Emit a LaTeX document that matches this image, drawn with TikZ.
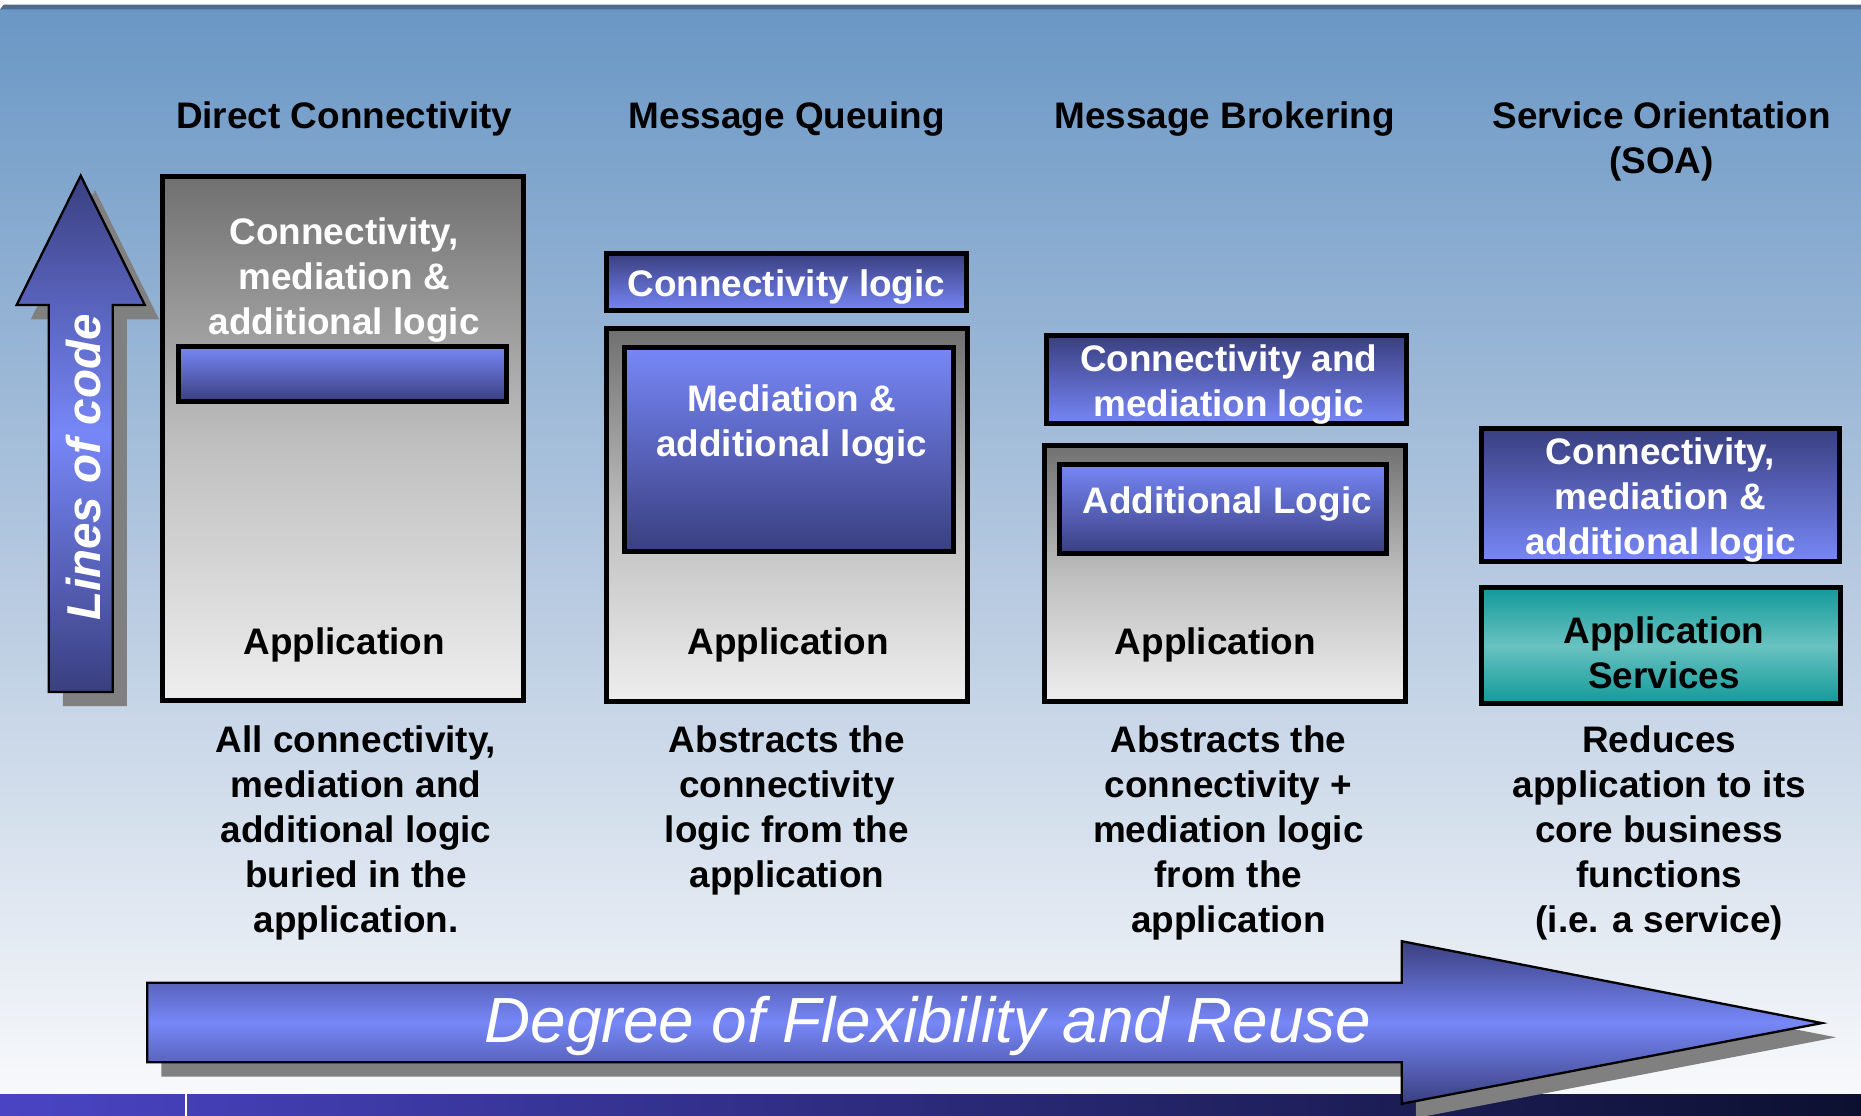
\documentclass[tikz,border=0pt]{standalone}
\usepackage{fontspec}
\setmainfont{Liberation Sans}
\usetikzlibrary{fit}
\definecolor{skytop}{HTML}{6A97C5}
\definecolor{skymid}{HTML}{B3C7DF}
\definecolor{skybottom}{HTML}{F8F9FB}
\definecolor{rimline}{HTML}{4E6A8E}
\definecolor{bluedark}{HTML}{3A3F80}
\definecolor{bluelight}{HTML}{7787F7}
\definecolor{graydark}{HTML}{707070}
\definecolor{graymid}{HTML}{BEBEBE}
\definecolor{graylight}{HTML}{EEEEEE}
\definecolor{tealedge}{HTML}{12999A}
\definecolor{tealmid}{HTML}{68C2C0}
\definecolor{stripleft}{HTML}{4A44C4}
\definecolor{stripright}{HTML}{0C1030}
\newcommand{\layer}[6]{\node[#1, fit={(#2,#3) (#4,#5)}] (#6) {};}
\tikzset{
  heading/.style={font=\bfseries\fontsize{17.7}{21.6}\selectfont, align=center, yshift=-2.3pt},
  intext/.style={heading, text=white},
  framed/.style={draw=black, line width=2.4pt, inner sep=0pt},
  appbox/.style={framed, top color=graydark, bottom color=graylight, middle color=graymid},
  logicup/.style={framed, top color=bluedark, bottom color=bluelight},
  logicdown/.style={framed, top color=bluelight, bottom color=bluedark},
  svcbox/.style={framed, top color=tealedge, bottom color=tealedge, middle color=tealmid},
  bigarrow/.style={draw=black, line width=1.1pt, top color=bluedark, bottom color=bluedark, middle color=bluelight},
  dropshadow/.style={fill=black!50}
}
\begin{document}
\begin{tikzpicture}[x=0.02cm, y=-0.02cm]
    \useasboundingbox (0,0) rectangle (1568,940);
    % background
    \fill[white] (0,0) rectangle (1568,940);
    \shade[top color=skytop, bottom color=skybottom, middle color=skymid] (0,8) rectangle (1568,922);
    \fill[rimline] (3,4) -- (1568,4) -- (1568,8) -- (0,8) -- cycle;
    \shade[left color=stripleft, right color=stripright] (0,922) rectangle (1568,940);
    \draw[white, line width=1pt] (157,922) -- (157,940);

    % lines of code arrow
    \fill[dropshadow, shift={(12,12)}] (68,148) -- (122,257) -- (95,257) -- (95,583) -- (41,583) -- (41,257) -- (14,257) -- cycle;
    \draw[bigarrow] (68,148) -- (122,257) -- (95,257) -- (95,583) -- (41,583) -- (41,257) -- (14,257) -- cycle;
    \node[rotate=90, text=white, font=\bfseries\itshape\fontsize{22.8}{26}\selectfont] (loc) at (70,394) {Lines of code};

    % column titles
    \node[heading] (dctitle) at (290,96) {Direct Connectivity};
    \node[heading] (mqtitle) at (663,96) {Message Queuing};
    \node[heading] (mbtitle) at (1032,96) {Message Brokering};
    \node[heading] (soatitle) at (1400,115) {Service Orientation\\(SOA)};

    % direct connectivity
    \layer{appbox}{137}{149}{441}{590}{dcapp}
    \node[intext] (dclogic) at (290,232) {Connectivity,\\mediation \&\\additional logic};
    \layer{logicdown}{150}{292}{427}{338}{dcbar}
    \node[heading] (dcapptext) at (290,539) {Application};

    % message queuing
    \layer{logicup}{511}{214}{814}{262}{mqconn}
    \node[intext] at (mqconn) {Connectivity logic};
    \layer{appbox}{511}{277}{815}{591}{mqapp}
    \layer{logicdown}{526}{293}{803}{465}{mqmed}
    \node[intext] (mqmedtext) at (667,354) {Mediation \&\\additional logic};
    \node[heading] (mqapptext) at (664,539) {Application};

    % message brokering
    \layer{logicup}{882}{283}{1185}{357}{mbconn}
    \node[intext] at ([xshift=1pt]mbconn) {Connectivity and\\mediation logic};
    \layer{appbox}{880}{375}{1184}{591}{mbapp}
    \layer{logicdown}{893}{391}{1168}{466}{mbadd}
    \node[intext] (mbaddtext) at (1034,421) {Additional Logic};
    \node[heading] (mbapptext) at (1024,539) {Application};

    % service orientation
    \layer{logicup}{1248}{361}{1550}{473}{soaconn}
    \node[intext] at (soaconn) {Connectivity,\\mediation \&\\additional logic};
    \layer{svcbox}{1248}{495}{1551}{593}{soasvc}
    \node[heading] (soasvctext) at (1402,546) {Application\\Services};

    % notes under the columns
    \node[heading] (dcnote) at (300,698) {All connectivity,\\mediation and\\additional logic\\buried in the\\application.};
    \node[heading] (mqnote) at (663,679) {Abstracts the\\connectivity\\logic from the\\application};
    \node[heading] (mbnote) at (1035,698) {Abstracts the\\connectivity +\\mediation logic\\from the\\application};
    \node[heading] (soanote) at (1398,698) {Reduces\\application to its\\core business\\functions\\(i.e. a service)};

    % flexibility arrow
    \fill[dropshadow, shift={(12,12)}] (124,828) -- (1181,828) -- (1181,793) -- (1535,862) -- (1181,930) -- (1181,895) -- (124,895) -- cycle;
    \draw[bigarrow] (124,828) -- (1181,828) -- (1181,793) -- (1535,862) -- (1181,930) -- (1181,895) -- (124,895) -- cycle;
    \node[text=white, font=\itshape\fontsize{30.6}{34}\selectfont, yshift=-2pt] (reuse) at (782,861) {Degree of Flexibility and Reuse};
\end{tikzpicture}
\end{document}
